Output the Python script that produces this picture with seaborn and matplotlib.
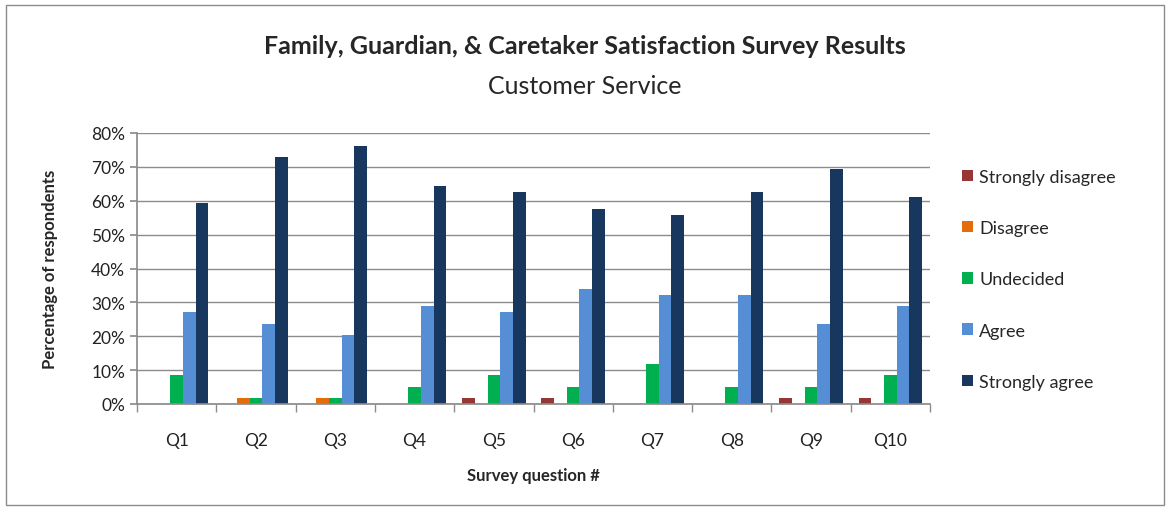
import pandas as pd
import matplotlib.pyplot as plt
import seaborn as sns
from matplotlib.ticker import PercentFormatter
from matplotlib.patches import Rectangle

questions = ["Q1", "Q2", "Q3", "Q4", "Q5", "Q6", "Q7", "Q8", "Q9", "Q10"]
responses = ["Strongly disagree", "Disagree", "Undecided", "Agree", "Strongly agree"]

strongly_disagree = [0.0, 0.0, 0.0, 0.0, 1.7, 1.7, 0.0, 0.0, 1.7, 1.7]
disagree = [0.0, 1.7, 1.7, 0.0, 0.0, 0.0, 0.0, 0.0, 0.0, 0.0]
undecided = [8.5, 1.7, 1.7, 5.1, 8.5, 5.1, 11.9, 5.1, 5.1, 8.5]
agree = [27.1, 23.7, 20.3, 28.8, 27.1, 33.9, 32.2, 32.2, 23.7, 28.8]
strongly_agree = [59.3, 72.9, 76.3, 64.4, 62.7, 57.6, 55.9, 62.7, 69.5, 61.0]

colors = ["#953735", "#E46C0A", "#00B050", "#558ED5", "#17375E"]

# long-form table for seaborn
rows = []
for resp, vals in zip(responses, [strongly_disagree, disagree, undecided, agree, strongly_agree]):
    for q, v in zip(questions, vals):
        rows.append({"Question": q, "Response": resp, "Percent": v})
df = pd.DataFrame(rows)

sns.set_theme(style="white")
plt.rcParams['font.family'] = ['Lato', 'DejaVu Sans']

fig = plt.figure(figsize=(11.69, 5.10), dpi=100)
ax = fig.add_axes([137 / 1169, 1 - 405 / 510, (930 - 137) / 1169, (405 - 134) / 510])

sns.barplot(data=df, x="Question", y="Percent", hue="Response", order=questions,
            hue_order=responses, palette=colors, width=0.8, ax=ax, saturation=1,
            linewidth=0, edgecolor="none")

ax.set_ylim(0, 80)
ax.set_yticks(range(0, 81, 10))
ax.yaxis.set_major_formatter(PercentFormatter(decimals=0))
ax.yaxis.grid(True, color="#8c8c8c", linewidth=1)
ax.set_axisbelow(True)
for s in ["top", "right"]:
    ax.spines[s].set_visible(False)
ax.spines["left"].set_color("#8c8c8c")
ax.spines["bottom"].set_color("#8c8c8c")

# category separator ticks on x axis
ax.set_xticks(range(len(questions)))
ax.set_xticklabels(questions)
ax.set_xticks([i - 0.5 for i in range(len(questions) + 1)], minor=True)
ax.tick_params(axis="x", which="major", length=0, labelsize=12.5, pad=20, colors="#222222")
ax.tick_params(axis="x", which="minor", length=6, color="#8c8c8c", direction="out", bottom=True)
ax.tick_params(axis="y", length=5, color="#8c8c8c", labelsize=12.5, left=True, colors="#222222")
ax.set_xlim(-0.5, len(questions) - 0.5)

ax.set_xlabel("Survey question #", fontsize=12, fontweight="bold", labelpad=14)
ax.set_ylabel("Percentage of respondents", fontsize=12, fontweight="bold", labelpad=24)

leg = ax.legend(loc="center left", bbox_to_anchor=(1.02, 0.46), frameon=False,
                fontsize=13, labelspacing=1.95, handlelength=0.6, handleheight=0.6,
                handletextpad=0.35)

fig.text(0.5, 1 - 46 / 510, "Family, Guardian, & Caretaker Satisfaction Survey Results",
         ha="center", va="center", fontsize=18, fontweight="bold")
fig.text(0.5, 1 - 87 / 510, "Customer Service", ha="center", va="center", fontsize=18)

fig.patches.append(Rectangle((6 / 1169, 4 / 510), 1158 / 1169, 500 / 510,
                             transform=fig.transFigure, fill=False,
                             edgecolor="#8c8c8c", linewidth=1))

fig.savefig("out.png", dpi=100)
